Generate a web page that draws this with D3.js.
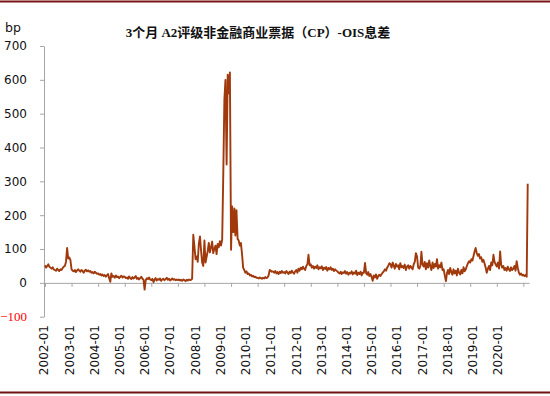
<!DOCTYPE html>
<html>
<head>
<meta charset="utf-8">
<script src="https://cdn.jsdelivr.net/npm/d3@7"></script>
<style>
  body { margin: 0; background: #fff; }
  svg { display: block; }
</style>
</head>
<body>
<div class="container"></div>
<script>
var w = 550;
var h = 396;

// semi-monthly readings (1st and 16th of each month), bp
var v2002 = [52,45,50,55,48,45,42,46,40,38,36,42,38,35,40,38,44,48,50,62,103,72,75,68];
var v2003 = [40,36,34,38,32,36,40,37,33,38,35,30,36,39,34,37,33,35,30,32,28,33,30,27];
var v2004 = [28,24,26,22,25,20,23,18,22,26,14,3,28,18,20,15,22,17,19,14,18,21,16,19];
var v2005 = [18,14,16,12,19,15,11,17,13,16,20,12,15,10,14,18,12,9,-20,8,14,11,16,10];
var v2006 = [8,12,2,10,14,7,11,9,13,6,10,12,8,11,15,9,12,7,10,13,9,11,8,10];
var v2007 = [8,10,7,9,6,10,8,5,9,7,10,8,9,12,142,110,70,78,62,115,137,95,60,50];
var v2008 = [125,60,78,95,118,90,105,122,88,100,110,85,115,105,123,110,128,320,540,600,350,615,560,622];
var v2009 = [98,226,150,220,140,215,130,125,110,118,85,45,38,30,34,26,28,22,24,19,21,17,18,15];
var v2010 = [15,13,16,14,12,15,13,17,14,16,22,38,36,33,34,30,35,28,32,26,33,29,35,30];
var v2011 = [32,28,35,30,26,33,29,36,31,27,34,38,30,42,36,45,40,48,42,38,50,55,83,52];
var v2012 = [55,45,50,42,48,44,52,40,46,43,49,38,45,41,47,36,44,40,46,38,42,35,40,37];
var v2013 = [34,30,28,33,26,31,29,35,27,32,24,30,28,34,25,31,27,36,23,30,26,33,22,30];
var v2014 = [30,59,28,24,32,20,26,18,6,22,16,25,12,20,24,20,26,30,34,40,36,45,50,58];
var v2015 = [55,45,60,50,42,56,48,52,40,58,46,50,44,54,38,48,52,42,50,46,40,55,62,88];
var v2016 = [78,45,42,50,92,55,48,62,40,58,45,66,50,38,60,44,56,48,70,42,52,46,60,38];
var v2017 = [40,22,5,30,38,26,44,32,24,40,28,36,22,42,30,25,38,28,46,34,40,50,58,64];
var v2018 = [60,70,66,80,92,103,88,80,85,72,76,62,68,58,45,30,42,50,38,60,52,83,62,55];
var v2019 = [48,60,42,93,55,45,50,38,44,36,48,40,35,46,38,42,50,36,64,45,30,24,28,22];
var v2020 = [24,20,23,18,293];

var years = [2002,2003,2004,2005,2006,2007,2008,2009,2010,2011,2012,2013,2014,2015,2016,2017,2018,2019,2020];
var series = [v2002,v2003,v2004,v2005,v2006,v2007,v2008,v2009,v2010,v2011,v2012,v2013,v2014,v2015,v2016,v2017,v2018,v2019,v2020];
var tickLabels = ["2002-01","2003-01","2004-01","2005-01","2006-01","2007-01","2008-01","2009-01","2010-01","2011-01","2012-01","2013-01","2014-01","2015-01","2016-01","2017-01","2018-01","2019-01","2020-01"];
var yTicks = [-100,0,100,200,300,400,500,600,700];

var data = [];
series.forEach(function(arr, i){
  arr.forEach(function(v, k){
    data.push({date: new Date(years[i], Math.floor(k/2), k%2 ? 16 : 1), value: v});
  });
});

var svg = d3.select(".container").append("svg").attr("width", w).attr("height", h);

var x = d3.scaleTime().domain([new Date(2002,0,1), new Date(2020,2,20)]).range([45, 529.1]);
var y = d3.scaleLinear().domain([-100, 700]).range([316.7, 46]);
var xLab = d3.scalePoint().domain(tickLabels).range([44.2, 498]);

// frame lines
svg.append("line").attr("x1",0).attr("x2",w).attr("y1",1.5).attr("y2",1.5)
  .attr("stroke","#7a1517").attr("stroke-width",2);
svg.append("line").attr("x1",0).attr("x2",w).attr("y1",392.5).attr("y2",392.5)
  .attr("stroke","#6e1214").attr("stroke-width",2);

// title
svg.append("text").attr("x",258).attr("y",36.5).attr("text-anchor","middle")
  .style("font-family","'Liberation Serif','Noto Sans CJK SC',serif")
  .style("font-weight","bold").style("font-size","13px").style("fill","#111")
  .text("3个月 A2评级非金融商业票据（CP）-OIS息差");

svg.append("text").attr("x",5).attr("y",32)
  .style("font-family","'DejaVu Sans',sans-serif").style("font-size","12.5px").style("fill","#111")
  .text("bp");

// y axis
var yAxis = svg.append("g").attr("transform","translate(44,0)")
  .call(d3.axisLeft(y).tickValues(yTicks).tickSize(4).tickSizeOuter(0).tickPadding(13));
yAxis.select(".domain").attr("stroke","#a6a6a6");
yAxis.selectAll(".tick line").attr("stroke","#a6a6a6");
yAxis.selectAll(".tick text")
  .style("font-family","'DejaVu Sans',sans-serif").style("font-size","12px").style("fill","#111")
  .filter(function(d){ return d < 0; })
  .style("font-family","'Liberation Serif',serif").style("font-size","13px").style("fill","#ff0000");

// x axis at zero
var xAxis = svg.append("g").attr("transform","translate(0," + y(0) + ")")
  .call(d3.axisBottom(x).tickValues(years.map(function(d){ return new Date(d,0,1); }))
    .tickFormat("").tickSize(4).tickSizeOuter(0));
xAxis.select(".domain").attr("stroke","#a6a6a6");
xAxis.selectAll(".tick line").attr("stroke","#a6a6a6");

svg.append("g").selectAll("text").data(tickLabels).enter().append("text")
  .attr("transform", function(d){ return "translate(" + xLab(d) + ",325) rotate(-90)"; })
  .attr("text-anchor","end").attr("dy","0.35em")
  .style("font-family","'DejaVu Sans',sans-serif").style("font-size","12px").style("fill","#111")
  .text(function(d){ return d; });

// the spread line
var line = d3.line().x(function(d){ return x(d.date); }).y(function(d){ return y(d.value); });
svg.append("path").datum(data).attr("d", line)
  .attr("fill","none").attr("stroke","#a0390c").attr("stroke-width",1.9).attr("stroke-linejoin","round");
</script>
</body>
</html>
